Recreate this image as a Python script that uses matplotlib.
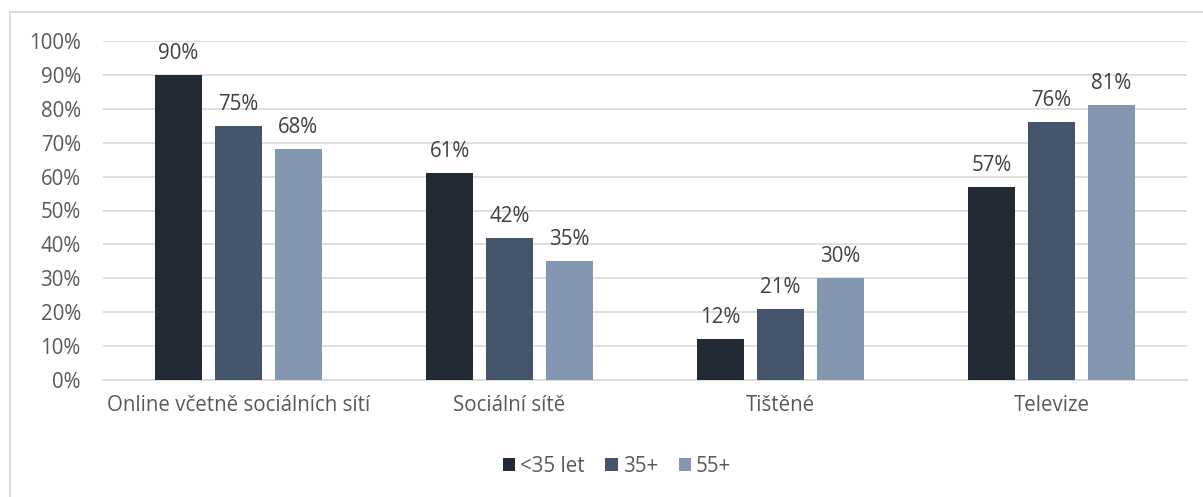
import matplotlib.pyplot as plt
import numpy as np
from matplotlib.patches import Rectangle

categories = ["Online včetně sociálních sítí", "Sociální sítě", "Tištěné", "Televize"]
series_names = ["<35 let", "35+", "55+"]
under_35 = [90, 61, 12, 57]
over_35 = [75, 42, 21, 76]
over_55 = [68, 35, 30, 81]
yticks = list(range(0, 101, 10))

COLORS = ["#222a35", "#44546a", "#8497b0"]
TEXT = "#595959"
FS = 14.8

plt.rcParams["font.family"] = ["Open Sans", "DejaVu Sans"]

fig = plt.figure(figsize=(12.03, 4.97), dpi=100)
ax = fig.add_axes([103 / 1203, 1 - 380 / 497, (1187 - 103) / 1203, (380 - 41) / 497])

# chart frame (only top/left visible in the crop)
fig.patches.append(Rectangle((10 / 1203, -0.1), 1.2, 1 - 12 / 497 + 0.1,
                             transform=fig.transFigure, fill=False,
                             ec="#d9d9d9", lw=1.3))

x = np.arange(len(categories))
width = 0.173
step = 0.221
for i, (vals, name) in enumerate(zip([under_35, over_35, over_55], series_names)):
    pos = x + (i - 1) * step
    ax.bar(pos, vals, width, color=COLORS[i], label=name, zorder=3)
    for px, v in zip(pos, vals):
        ax.annotate(f"{v}%", (px, v), textcoords="offset points", xytext=(0, 8),
                    ha="center", va="bottom", fontsize=FS, color="#404040")

ax.set_xlim(-0.5, len(categories) - 0.5)
ax.set_ylim(0, 100)
ax.set_yticks(yticks)
ax.set_yticklabels([f"{t}%" for t in yticks])
ax.set_xticks(x)
ax.set_xticklabels(categories)
ax.tick_params(axis="both", length=0, labelsize=FS, labelcolor=TEXT)
ax.tick_params(axis="x", pad=11)
ax.tick_params(axis="y", pad=16)
ax.grid(True, axis="y", color="#d9d9d9", lw=1.2, zorder=0)
for s in ["top", "right", "left"]:
    ax.spines[s].set_visible(False)
ax.spines["bottom"].set_color("#d9d9d9")
ax.spines["bottom"].set_linewidth(1.2)

fig.legend(loc="center", bbox_to_anchor=(617 / 1203, 1 - 466 / 497), ncol=3,
           frameon=False, fontsize=FS, labelcolor=TEXT, handlelength=0.6,
           handleheight=0.6, handletextpad=0.25, columnspacing=1.0)

fig.savefig("out.png", dpi=100)
